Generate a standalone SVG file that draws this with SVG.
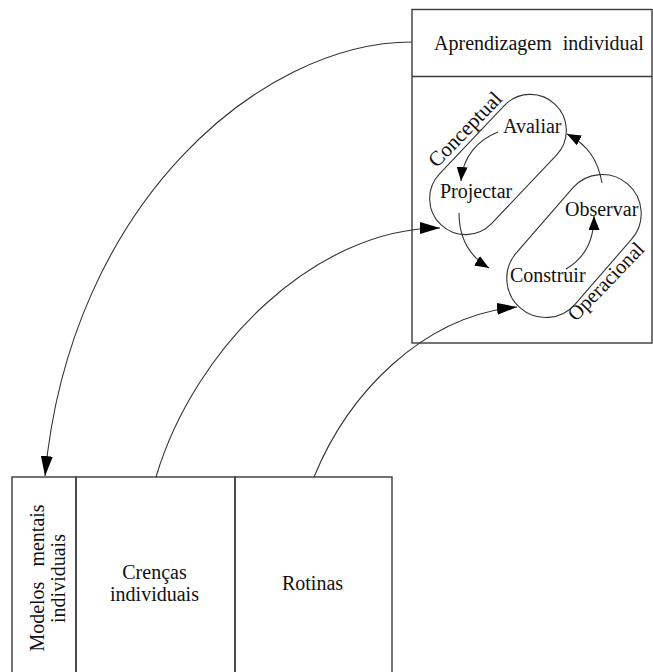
<svg xmlns="http://www.w3.org/2000/svg" width="653" height="672" viewBox="0 0 653 672">
<style>
.box{fill:none;stroke:#3a3a3a;stroke-width:1.4}
.pill{fill:none;stroke:#333;stroke-width:1.1}
.t{font-family:"Liberation Serif","Times New Roman",serif;font-size:20px;fill:#111}
.c{fill:none;stroke:#333;stroke-width:1.1}
</style>
<defs>
<marker id="big" markerUnits="userSpaceOnUse" markerWidth="20" markerHeight="12" refX="20" refY="6" orient="auto" viewBox="0 0 20 12"><path d="M0,0 L20,6 L0,12 z" fill="#000"/></marker>
<marker id="small" markerUnits="userSpaceOnUse" markerWidth="14" markerHeight="11" refX="14" refY="5.5" orient="auto" viewBox="0 0 14 11"><path d="M0,0 L14,5.5 L0,11 z" fill="#000"/></marker>
</defs>
<rect width="653" height="672" fill="#fff"/>

<g id="aprendizagem">
<rect class="box" x="412" y="9.5" width="240" height="333.5"/>
<line class="box" x1="412" y1="76.5" x2="652" y2="76.5"/>
<text class="t" x="539" y="50" text-anchor="middle" word-spacing="6">Aprendizagem individual</text>
</g>

<g id="conceptual">
<rect class="pill" x="-83" y="-36" width="166" height="72" rx="36" transform="translate(498,164.5) rotate(-46.5)"/>
<text class="t" transform="translate(470,134.2) rotate(-46)" text-anchor="middle" style="font-size:21px">Conceptual</text>
</g>

<g id="operacional">
<rect class="pill" x="-82" y="-39" width="164" height="78" rx="39" transform="translate(574,246) rotate(-49)"/>
<text class="t" transform="translate(610.7,286.2) rotate(-46)" text-anchor="middle" style="font-size:20.5px">Operacional</text>
</g>

<g id="avaliar"><text class="t" x="503" y="133">Avaliar</text></g>
<g id="projectar"><text class="t" x="440" y="198">Projectar</text></g>
<g id="observar"><text class="t" x="565" y="216">Observar</text></g>
<g id="construir"><text class="t" x="510" y="282">Construir</text></g>

<g id="modelos">
<rect class="box" x="12" y="477" width="64" height="210"/>
<text class="t" transform="translate(44,578) rotate(-90)" text-anchor="middle" word-spacing="10">Modelos mentais</text>
<text class="t" transform="translate(65,578.5) rotate(-90)" text-anchor="middle">individuais</text>
</g>
<g id="crencas">
<rect class="box" x="76" y="477" width="159" height="210"/>
<text class="t" x="154.5" y="579" text-anchor="middle">Crenças</text>
<text class="t" x="154.5" y="600.5" text-anchor="middle">individuais</text>
</g>
<g id="rotinas">
<rect class="box" x="235" y="477" width="157" height="210"/>
<text class="t" x="312.5" y="590" text-anchor="middle">Rotinas</text>
</g>

<g id="connectors">
<path class="c" d="M412,42 C260,42 70,205 45,476" marker-end="url(#big)"/>
<path class="c" d="M156,477 C194.5,347.7 315,228 440,228" marker-end="url(#big)"/>
<path class="c" d="M314,477 C348,394 422,316 517,307" marker-end="url(#big)"/>
<path class="c" d="M498,132 C478,140 463,156 461,181" marker-end="url(#small)"/>
<path class="c" d="M459,213 C459,237 469,256 489,268" marker-end="url(#small)"/>
<path class="c" d="M566,269 C585,258 594,240 594,216" marker-end="url(#small)"/>
<path class="c" d="M602,183 C598,160 588,145 567,134" marker-end="url(#small)"/>
</g>
</svg>
